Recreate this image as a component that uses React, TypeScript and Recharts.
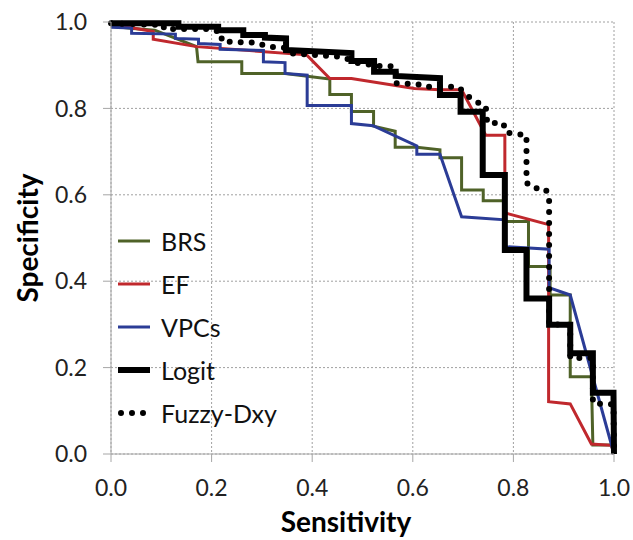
import { LineChart, Line, XAxis, YAxis, CartesianGrid, Legend } from 'recharts';

// [sensitivity, specificity] points; steps are written as doubled x values
const brs: [number, number][] = [
  [0, 0.99], [0.044, 0.985], [0.087, 0.981], [0.170, 0.943], [0.173, 0.908], [0.260, 0.908],
  [0.260, 0.881], [0.346, 0.881], [0.435, 0.868], [0.435, 0.832], [0.478, 0.832], [0.478, 0.793],
  [0.522, 0.793], [0.522, 0.759], [0.565, 0.747], [0.565, 0.710], [0.608, 0.710], [0.654, 0.704],
  [0.654, 0.686], [0.697, 0.686], [0.697, 0.611], [0.740, 0.611], [0.740, 0.586], [0.783, 0.586],
  [0.783, 0.538], [0.830, 0.538], [0.830, 0.434], [0.873, 0.434], [0.873, 0.368], [0.913, 0.368],
  [0.913, 0.179], [0.955, 0.179], [0.958, 0.021], [0.995, 0.021], [1, 0],
];

const ef: [number, number][] = [
  [0, 0.995], [0.084, 0.978], [0.084, 0.960], [0.170, 0.943], [0.389, 0.924], [0.435, 0.869],
  [0.478, 0.869], [0.603, 0.846], [0.654, 0.843], [0.697, 0.843], [0.745, 0.738], [0.783, 0.738],
  [0.783, 0.558], [0.870, 0.531], [0.870, 0.121], [0.913, 0.116], [0.955, 0.023], [0.995, 0.020],
  [1, 0],
];

const vpcs: [number, number][] = [
  [0, 0.988], [0.041, 0.986], [0.041, 0.974], [0.128, 0.972], [0.128, 0.962], [0.174, 0.960],
  [0.174, 0.950], [0.217, 0.948], [0.217, 0.937], [0.303, 0.934], [0.303, 0.908], [0.346, 0.906],
  [0.346, 0.881], [0.390, 0.877], [0.390, 0.807], [0.478, 0.807], [0.478, 0.765], [0.521, 0.760],
  [0.608, 0.713], [0.608, 0.694], [0.654, 0.694], [0.697, 0.549], [0.783, 0.542], [0.783, 0.480],
  [0.871, 0.474], [0.871, 0.385], [0.913, 0.368], [1, 0],
];

const logit: [number, number][] = [
  [0, 0.997], [0.134, 0.997], [0.134, 0.989], [0.213, 0.989], [0.213, 0.981], [0.263, 0.981],
  [0.263, 0.970], [0.306, 0.970], [0.306, 0.964], [0.348, 0.962], [0.348, 0.935], [0.392, 0.933],
  [0.478, 0.928], [0.478, 0.910], [0.523, 0.910], [0.523, 0.885], [0.566, 0.885], [0.566, 0.875],
  [0.654, 0.870], [0.654, 0.831], [0.695, 0.831], [0.695, 0.792], [0.739, 0.792], [0.739, 0.646],
  [0.783, 0.646], [0.783, 0.472], [0.826, 0.472], [0.826, 0.360], [0.871, 0.360], [0.871, 0.299],
  [0.913, 0.299], [0.913, 0.233], [0.958, 0.233], [0.958, 0.142], [0.999, 0.142], [1, 0],
];

const fuzzy: [number, number][] = [
  [0, 0.997], [0.105, 0.993], [0.105, 0.984], [0.200, 0.984], [0.220, 0.975], [0.220, 0.955],
  [0.290, 0.952], [0.310, 0.943], [0.345, 0.940], [0.360, 0.927], [0.460, 0.919], [0.490, 0.905],
  [0.535, 0.898], [0.565, 0.897], [0.567, 0.858], [0.610, 0.856], [0.620, 0.850], [0.690, 0.850],
  [0.720, 0.818], [0.745, 0.806], [0.748, 0.766], [0.780, 0.766], [0.785, 0.744], [0.826, 0.738],
  [0.826, 0.628], [0.838, 0.615], [0.862, 0.615], [0.871, 0.600], [0.871, 0.300], [0.913, 0.299],
  [0.913, 0.222], [0.958, 0.222], [0.958, 0.117], [0.999, 0.115], [1, 0],
];

const ticks = [0, 0.2, 0.4, 0.6, 0.8, 1.0];

const series = [
  { name: 'BRS', points: brs, color: '#4F6228', width: 3, dash: undefined },
  { name: 'EF', points: ef, color: '#C0282D', width: 3, dash: undefined },
  { name: 'VPCs', points: vpcs, color: '#2B3C96', width: 3, dash: undefined },
  { name: 'Logit', points: logit, color: '#000000', width: 6, dash: undefined },
  { name: 'Fuzzy-Dxy', points: fuzzy, color: '#000000', width: 6, dash: '0 11' },
];

const font = 'Lato, "Open Sans", sans-serif';
const toRows = (pts: [number, number][]) => pts.map(([x, y]) => ({ x, y }));

function ChartLegend() {
  return (
    <div style={{ fontFamily: font, fontSize: 25, color: '#111' }}>
      {series.map((s) => (
        <div key={s.name} style={{ display: 'flex', alignItems: 'center', height: 43 }}>
          <svg width={44} height={12} style={{ marginRight: 5 }}>
            <line
              x1={s.dash ? 9 : 6} y1={6} x2={38} y2={6}
              stroke={s.color}
              strokeWidth={s.width}
              strokeDasharray={s.dash}
              strokeLinecap={s.dash ? 'round' : 'butt'}
            />
          </svg>
          <span>{s.name}</span>
        </div>
      ))}
    </div>
  );
}

export default function App() {
  return (
    <div style={{ position: 'absolute', left: 0, top: 0, width: 633, height: 540, background: '#fff', overflow: 'hidden' }}>
      <LineChart width={633} height={540} margin={{ top: 22, right: 19, left: 0, bottom: 0 }}>
        <CartesianGrid stroke="#a0a0a0" strokeDasharray="2 2" />
        <XAxis
          type="number"
          dataKey="x"
          domain={[0, 1]}
          ticks={ticks}
          tickFormatter={(v: number) => v.toFixed(1)}
          height={86}
          tickSize={8}
          tickMargin={18}
          stroke="#a6a6a6"
          tickLine={{ stroke: '#a6a6a6' }}
          tick={{ fontSize: 23, fill: '#222', fontFamily: font }}
          label={{
            content: () => (
              <text x={346} y={532} textAnchor="middle" fontSize={28} fontWeight={700} fontFamily={font} fill="#000">
                Sensitivity
              </text>
            ),
          }}
        />
        <YAxis
          type="number"
          domain={[0, 1]}
          ticks={ticks}
          tickFormatter={(v: number) => v.toFixed(1)}
          width={111}
          tickSize={8}
          tickMargin={2}
          stroke="#a6a6a6"
          tickLine={{ stroke: '#a6a6a6' }}
          tick={{ fontSize: 23, fill: '#222', fontFamily: font, dx: -14 }}
          label={{
            content: () => (
              <text x={27} y={238} transform="rotate(-90 27 238)" textAnchor="middle" dominantBaseline="central" fontSize={28} fontWeight={700} fontFamily={font} fill="#000">
                Specificity
              </text>
            ),
          }}
        />
        <Legend
          layout="vertical"
          align="center"
          verticalAlign="middle"
          content={<ChartLegend />}
          wrapperStyle={{ left: 112, top: 219, width: 200 }}
        />
        {series.map((s) => (
          <Line
            key={s.name}
            name={s.name}
            data={toRows(s.points)}
            dataKey="y"
            type="linear"
            stroke={s.color}
            strokeWidth={s.width}
            strokeDasharray={s.dash}
            strokeLinecap={s.dash ? 'round' : 'butt'}
            strokeLinejoin="miter"
            dot={false}
            activeDot={false}
            isAnimationActive={false}
          />
        ))}
      </LineChart>
    </div>
  );
}
